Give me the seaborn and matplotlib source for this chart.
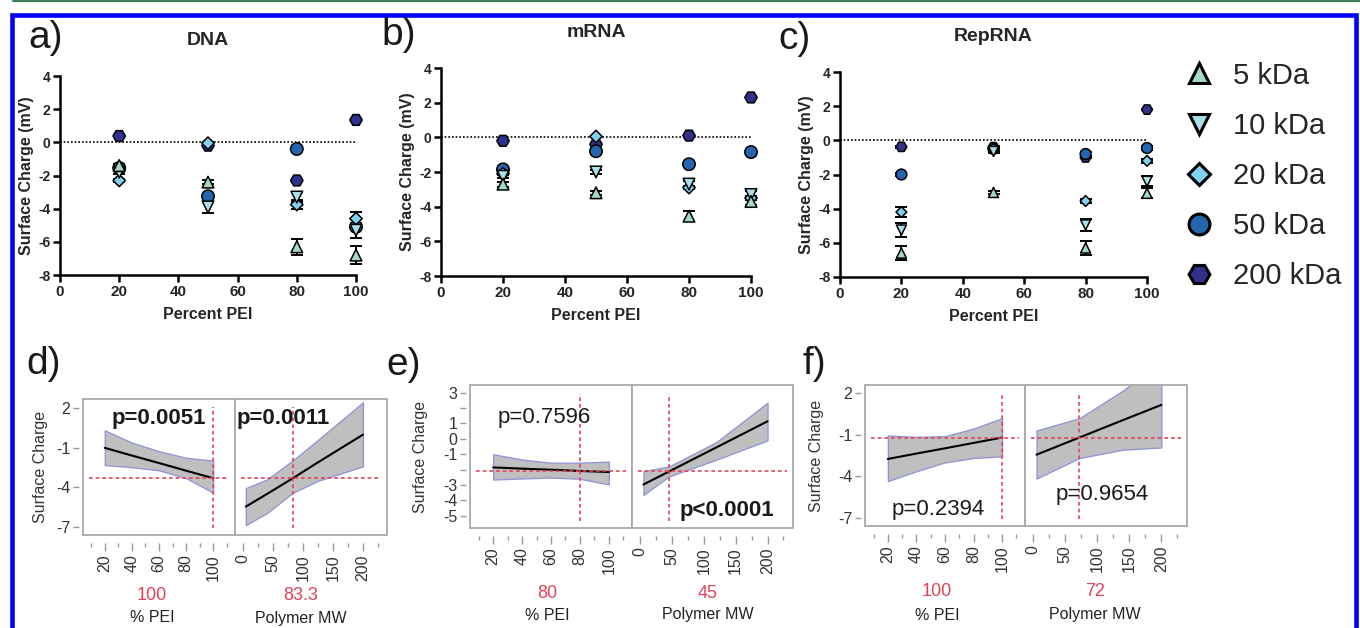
import numpy as np
import pandas as pd
import matplotlib.pyplot as plt
import seaborn as sns
from matplotlib.lines import Line2D
from matplotlib.patches import Rectangle
from matplotlib.ticker import MultipleLocator

# ---------------------------------------------------------
# data
# ---------------------------------------------------------
pei = [20, 50, 80, 100]
mw_labels = ["5 kDa", "10 kDa", "20 kDa", "50 kDa", "200 kDa"]

# rows follow mw_labels
dna_mean = [[-1.4, -2.4, -6.3, -6.8],
            [-1.8, -3.9, -3.3, -5.3],
            [-2.3, -0.05, -3.75, -4.6],
            [-1.55, -3.25, -0.4, -5.1],
            [0.38, -0.2, -2.3, 1.35]]
dna_sd = [[0.1, 0.1, 0.5, 0.55],
          [0.1, 0.35, 0.3, 0.45],
          [0.1, 0.05, 0.3, 0.4],
          [0.1, 0.1, 0.1, 0.1],
          [0.05, 0.05, 0.05, 0.05]]

mrna_mean = [[-2.7, -3.2, -4.55, -3.7],
             [-2.25, -2.0, -2.7, -3.3],
             [-2.1, 0.05, -2.9, -3.5],
             [-1.85, -0.8, -1.55, -0.85],
             [-0.2, -0.4, 0.1, 2.3]]
mrna_sd = [[0.15, 0.1, 0.3, 0.2],
           [0.1, 0.1, 0.2, 0.2],
           [0.1, 0.05, 0.1, 0.1],
           [0.1, 0.1, 0.1, 0.05],
           [0.05, 0.05, 0.05, 0.05]]

rep_mean = [[-6.6, -3.05, -6.3, -3.1],
            [-5.25, -0.65, -4.95, -2.4],
            [-4.2, -0.5, -3.55, -1.2],
            [-2.0, -0.5, -0.8, -0.45],
            [-0.38, -0.4, -1.0, 1.8]]
rep_sd = [[0.4, 0.1, 0.4, 0.3],
          [0.4, 0.1, 0.35, 0.3],
          [0.3, 0.1, 0.1, 0.1],
          [0.1, 0.1, 0.1, 0.1],
          [0.05, 0.05, 0.05, 0.05]]

# prediction profiles (fit and confidence band)
prof_pei_x = [20, 40, 60, 80, 100]
prof_mw_x = [5, 40, 83.3, 125, 200]

d_pei_fit = [-1.0, -1.58, -2.15, -2.73, -3.3]
d_pei_lo = [-2.3, -2.47, -2.7, -3.3, -4.4]
d_pei_hi = [0.33, -0.6, -1.25, -1.75, -1.97]
d_mw_fit = [-5.45, -4.5, -3.3, -2.1, 0.0]
d_mw_lo = [-6.85, -5.95, -4.4, -3.5, -2.4]
d_mw_hi = [-4.05, -3.4, -1.95, -0.4, 2.45]

e_mw_x = [5, 45, 120, 200]
e_pei_fit = [-1.86, -1.94, -2.01, -2.09, -2.16]
e_pei_lo = [-2.65, -2.58, -2.52, -2.6, -2.97]
e_pei_hi = [-1.0, -1.35, -1.55, -1.55, -1.48]
e_mw_fit = [-2.97, -2.13, -0.55, 1.14]
e_mw_lo = [-3.65, -2.45, -1.35, -0.1]
e_mw_hi = [-2.1, -1.8, -0.2, 2.35]

f_mw_x = [5, 72, 140, 200]
f_pei_fit = [-2.75, -2.36, -1.98, -1.59, -1.2]
f_pei_lo = [-4.35, -3.64, -3.0, -2.68, -2.56]
f_pei_hi = [-1.05, -1.15, -1.1, -0.55, 0.2]
f_mw_fit = [-2.44, -1.2, 0.06, 1.16]
f_mw_lo = [-4.17, -2.68, -2.08, -1.92]
f_mw_hi = [-0.69, 0.2, 2.2, 4.3]

d_current = ["100", "83.3"]
e_current = ["80", "45"]
f_current = ["100", "72"]

# ---------------------------------------------------------
# style
# ---------------------------------------------------------
sns.set_theme(style="ticks")
plt.rcParams["font.family"] = ["Liberation Sans", "DejaVu Sans"]
plt.rcParams["axes.unicode_minus"] = False

palette = {"5 kDa": "#a3d8c2", "10 kDa": "#a8dfeb", "20 kDa": "#82d0ef",
           "50 kDa": "#2465ae", "200 kDa": "#30318a"}
markers = {"5 kDa": "^", "10 kDa": "v", "20 kDa": "D", "50 kDa": "o", "200 kDa": "H"}
marker_area = {"5 kDa": 70, "10 kDa": 70, "20 kDa": 40, "50 kDa": 80, "200 kDa": 80}
RED = "#e2435c"

W, H = 1360, 628
fig = plt.figure(figsize=(W / 100, H / 100), dpi=100)


def px_axes(left, top, right, bottom, **kw):
    return fig.add_axes([left / W, 1 - bottom / H, (right - left) / W, (bottom - top) / H], **kw)


def charge_panel(ax, means, sds, title, scale):
    rows = []
    for lab, m, s in zip(mw_labels, means, sds):
        for x, y, e in zip(pei, m, s):
            rows.append((lab, x, y, e))
    df = pd.DataFrame(rows, columns=["mw", "pei", "charge", "sd"])
    # big polymers drawn first, small ones end up on top
    df["order"] = df["mw"].map({k: i for i, k in enumerate(mw_labels[::-1])})
    df = df.sort_values("order", kind="stable")

    ax.plot([0, 100], [0, 0], color="black", ls=(0, (1, 1.2)), lw=1.2, zorder=1)
    ax.errorbar(df["pei"], df["charge"], yerr=df["sd"], fmt="none", ecolor="black",
                elinewidth=1.4, capsize=4.5, capthick=1.4, zorder=2, clip_on=False)
    sns.scatterplot(data=df, x="pei", y="charge", hue="mw", style="mw", size="mw",
                    hue_order=mw_labels, style_order=mw_labels, size_order=mw_labels,
                    palette=palette, markers=markers,
                    sizes={k: v * scale for k, v in marker_area.items()},
                    edgecolor="black", linewidth=1.1,
                    legend=False, ax=ax, zorder=3, clip_on=False)
    ax.set_xlim(0, 100)
    ax.set_ylim(-8, 4)
    ax.set_xticks([0, 20, 40, 60, 80, 100])
    ax.set_yticks([-8, -6, -4, -2, 0, 2, 4])
    sns.despine(ax=ax)
    for s in ["left", "bottom"]:
        ax.spines[s].set_linewidth(1.8)
        ax.spines[s].set_color("black")
    ax.tick_params(axis="both", length=5, width=1.8, color="black", pad=2)
    ax.tick_params(axis="x", labelsize=11)
    ax.tick_params(axis="y", labelsize=10)
    for t in ax.get_xticklabels() + ax.get_yticklabels():
        t.set_fontweight("bold")
    ax.set_xlabel("Percent PEI", fontsize=11.5, fontweight="bold", labelpad=6)
    ax.set_ylabel("Surface Charge (mV)", fontsize=11.5, fontweight="bold", labelpad=3)
    ax.set_title(title, fontsize=14, fontweight="bold", pad=22)


ax_a = px_axes(60, 76, 356, 275)
ax_b = px_axes(441, 68, 751, 276)
ax_c = px_axes(840, 72, 1147, 277)
charge_panel(ax_a, dna_mean, dna_sd, "DNA", 1.0)
charge_panel(ax_b, mrna_mean, mrna_sd, "mRNA", 1.0)
charge_panel(ax_c, rep_mean, rep_sd, "RepRNA", 0.75)

legend_ms = {"5 kDa": 14, "10 kDa": 14, "20 kDa": 11.5, "50 kDa": 15, "200 kDa": 15}
handles = [Line2D([], [], ls="", marker=markers[k], markersize=legend_ms[k],
                  markerfacecolor=palette[k], markeredgecolor="black",
                  markeredgewidth=2.2) for k in mw_labels]
fig.legend(handles, mw_labels, loc="upper left", bbox_to_anchor=(1167 / W, 1 - 47 / H),
           frameon=False, fontsize=21, labelspacing=0.76, handletextpad=0.55,
           handlelength=1.2, borderpad=0)


# ---------------------------------------------------------
# prediction profiler panels
# ---------------------------------------------------------
def profile(ax, x, fit, lo, hi, now_x, now_y, xlim, major, minor):
    ax.fill_between(x, lo, hi, facecolor="#bfbfbf", edgecolor="#8d92d8",
                    linewidth=0.9, zorder=1)
    sns.lineplot(x=x, y=fit, color="black", linewidth=1.5, ax=ax, zorder=3)
    ax.axvline(now_x, ymin=0.05, ymax=0.94, color=RED, ls=(0, (2.2, 1.8)), lw=1.2, zorder=4)
    ax.axhline(now_y, xmin=0.04, xmax=0.96, color=RED, ls=(0, (2.2, 1.8)), lw=1.2, zorder=4)
    ax.set_xlim(*xlim)
    ax.xaxis.set_major_locator(MultipleLocator(major))
    ax.xaxis.set_minor_locator(MultipleLocator(minor))
    for s in ax.spines.values():
        s.set_visible(False)
    ax.spines["bottom"].set_position(("outward", 6))
    ax.spines["left"].set_position(("outward", 3))
    ax.add_patch(Rectangle((0, 0), 1, 1, transform=ax.transAxes, fill=False,
                           edgecolor="#a9a9a9", linewidth=1.3, clip_on=False, zorder=5))
    ax.tick_params(axis="x", which="major", length=6, width=1, color="#9a9a9a",
                   labelrotation=90, labelsize=11.5, labelcolor="#333333", pad=2)
    ax.tick_params(axis="x", which="minor", bottom=True, length=3, width=1, color="#9a9a9a")
    ax.set_xlabel("")
    ax.set_ylabel("")


def profiler(box_l, box_r, pei_fit, pei_lo, pei_hi, mw_x, mw_fit, mw_lo, mw_hi,
             now, ylim, yticks, yticklabels, ptexts, under_y, under_x, ylab_x):
    axl = px_axes(*box_l)
    axr = px_axes(*box_r, sharey=axl)
    now_pei, now_mw = float(now[0]), float(now[1])
    now_y = np.interp(now_pei, prof_pei_x, pei_fit)
    profile(axl, prof_pei_x, pei_fit, pei_lo, pei_hi, now_pei, now_y, (4, 116), 20, 10)
    profile(axr, mw_x, mw_fit, mw_lo, mw_hi, now_mw, now_y, (-13, 240), 50, 25)
    axl.set_ylim(*ylim)
    axl.set_yticks(yticks)
    axl.set_yticklabels(yticklabels)
    axl.tick_params(axis="y", length=4, width=1, color="#9a9a9a", labelsize=11.5,
                    labelcolor="#333333", pad=2)
    axr.tick_params(axis="y", left=False, labelleft=False)
    axl.set_ylabel("Surface Charge", fontsize=11.5, color="#333333")
    axl.yaxis.set_label_coords(ylab_x, 0.5)
    for ax, (txt, tx, ty, bold) in zip([axl, axr], ptexts):
        ax.text(tx, ty, txt, transform=ax.transAxes, ha="center", va="center",
                fontsize=16, color="#1a1a1a", fontweight="bold" if bold else "normal",
                zorder=6)
    for cx, val, name in zip(under_x, now, ["% PEI", "Polymer MW"]):
        fig.text(cx / W, 1 - under_y[0] / H, val, ha="center", va="center",
                 fontsize=13, color=RED)
        fig.text(cx / W, 1 - under_y[1] / H, name, ha="center", va="center",
                 fontsize=11.5, color="#222222")


profiler((83, 399, 235, 535), (235, 399, 387, 535),
         d_pei_fit, d_pei_lo, d_pei_hi, prof_mw_x, d_mw_fit, d_mw_lo, d_mw_hi,
         d_current, (-7.6, 2.7), [2, -1, -4, -7], ["2", "-1", "-4", "-7"],
         [("p=0.0051", 0.5, 0.86, True), ("p=0.0011", 0.32, 0.86, True)],
         (596, 618), (152, 301), -0.23)
profiler((470, 385, 632, 528), (632, 385, 793, 528),
         e_pei_fit, e_pei_lo, e_pei_hi, e_mw_x, e_mw_fit, e_mw_lo, e_mw_hi,
         e_current, (-5.8, 3.5), [3, 2, 1, 0, -1, -2, -3, -4, -5],
         ["3", "", "1", "0", "-1", "", "-3", "-4", "-5"],
         [("p=0.7596", 0.46, 0.77, False), ("p<0.0001", 0.59, 0.125, True)],
         (593, 615), (547, 708), -0.26)
profiler((865, 385, 1025, 526), (1025, 385, 1187, 526),
         f_pei_fit, f_pei_lo, f_pei_hi, f_mw_x, f_mw_fit, f_mw_lo, f_mw_hi,
         f_current, (-7.6, 2.6), [2, -1, -4, -7], ["2", "-1", "-4", "-7"],
         [("p=0.2394", 0.46, 0.12, False), ("p=0.9654", 0.475, 0.22, False)],
         (591, 615), (937, 1095), -0.255)

# panel letters
for lab, x, y in [("a)", 46, 38), ("b)", 399, 35), ("c)", 795, 39),
                  ("d)", 44, 364), ("e)", 404, 365), ("f)", 814, 364)]:
    fig.text(x / W, 1 - y / H, lab, ha="center", va="center", fontsize=28, color="#1a1a1a")

# journal frame
fig.add_artist(Rectangle((11.5 / W, -0.05), (1356 - 11.5) / W, 1.05 - 15 / H,
                         transform=fig.transFigure, fill=False, edgecolor="#0000ff",
                         linewidth=3.3))
fig.add_artist(Line2D([13 / W, 1], [1 - 1 / H, 1 - 1 / H], transform=fig.transFigure,
                      color="#3b7d57", linewidth=1.6))

fig.savefig("out.png", dpi=100)
